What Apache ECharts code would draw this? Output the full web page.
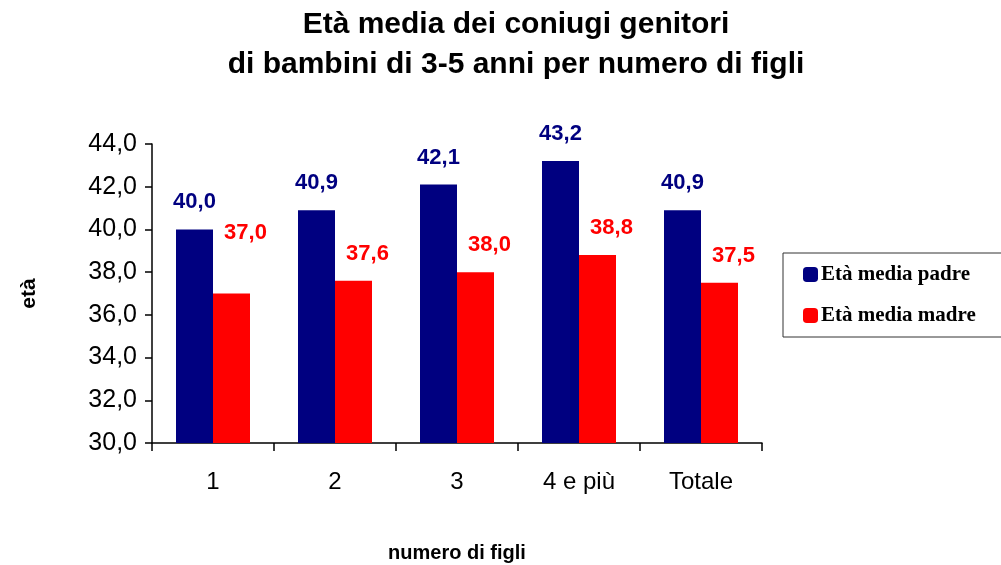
<!DOCTYPE html>
<html>
<head>
<meta charset="utf-8">
<title>Età media dei coniugi genitori</title>
<script src="https://cdn.jsdelivr.net/npm/echarts@6/dist/echarts.min.js"></script>
<style>
  html, body { margin: 0; padding: 0; background: #fff; }
  #chart { width: 1001px; height: 565px; }
</style>
</head>
<body>
<div id="chart"></div>
<script>
var categories = ['1', '2', '3', '4 e più', 'Totale'];
var padre = [40.0, 40.9, 42.1, 43.2, 40.9];
var madre = [37.0, 37.6, 38.0, 38.8, 37.5];

function virgola(v) {
    return v.toFixed(1).replace('.', ',');
}

var myChart = echarts.init(document.getElementById('chart'));

// l'etichetta della prima barra rossa è spostata più in alto nell'originale
var madreData = madre.map(function (v, i) {
    if (i === 0) {
        return { value: v, label: { offset: [14, -34] } };
    }
    return v;
});

var option = {
    animation: false,
    textStyle: { fontFamily: 'Liberation Sans, Arial, sans-serif' },
    title: {
        text: 'Età media dei coniugi genitori\ndi bambini di 3-5 anni per numero di figli',
        left: 511,
        top: 0,
        textAlign: 'center',
        textStyle: {
            fontSize: 30,
            fontWeight: 'bold',
            color: '#000',
            lineHeight: 40
        }
    },
    legend: {
        orient: 'vertical',
        left: 783,
        top: 253,
        padding: [11, 40, 11, 20],
        itemGap: 20,
        itemWidth: 15,
        itemHeight: 15,
        borderColor: '#333',
        borderWidth: 1,
        borderRadius: 0,
        icon: 'roundRect',
        textStyle: {
            fontFamily: 'Liberation Serif, Times New Roman, serif',
            fontWeight: 'bold',
            fontSize: 21,
            color: '#000',
            padding: [0, 0, 0, -2]
        },
        data: ['Età media padre', 'Età media madre']
    },
    grid: {
        left: 152,
        top: 144,
        width: 610,
        height: 299,
        containLabel: false,
        outerBoundsMode: 'none'
    },
    xAxis: {
        type: 'category',
        data: categories,
        name: 'numero di figli',
        nameLocation: 'middle',
        nameGap: 100,
        nameTextStyle: { fontSize: 20, fontWeight: 'bold', color: '#000' },
        axisLine: { lineStyle: { color: '#000', width: 1.5 } },
        axisTick: { show: true, length: 8, inside: false, lineStyle: { color: '#000', width: 1.5 } },
        axisLabel: { color: '#000', fontSize: 24, margin: 27 }
    },
    yAxis: {
        type: 'value',
        min: 30,
        max: 44,
        interval: 2,
        name: 'età',
        nameLocation: 'middle',
        nameGap: 112,
        nameRotate: 90,
        nameTextStyle: { fontSize: 21, fontWeight: 'bold', color: '#000' },
        splitLine: { show: false },
        axisLine: { show: true, lineStyle: { color: '#000', width: 1.5 } },
        axisTick: { show: true, length: 7, lineStyle: { color: '#000', width: 1.5 } },
        axisLabel: {
            color: '#000',
            fontSize: 25,
            margin: 15,
            formatter: function (v) { return virgola(v); }
        }
    },
    series: [
        {
            name: 'Età media padre',
            type: 'bar',
            data: padre,
            barWidth: 37,
            barGap: '0%',
            itemStyle: { color: '#000080' },
            label: {
                show: true,
                position: 'top',
                distance: 16,
                color: '#000080',
                fontSize: 22,
                fontWeight: 'bold',
                formatter: function (p) { return virgola(p.value); }
            }
        },
        {
            name: 'Età media madre',
            type: 'bar',
            data: madreData,
            barWidth: 37,
            barGap: '0%',
            itemStyle: { color: '#ff0000' },
            label: {
                show: true,
                position: 'top',
                distance: 16,
                offset: [14, 0],
                color: '#ff0000',
                fontSize: 22,
                fontWeight: 'bold',
                formatter: function (p) { return virgola(p.value); }
            }
        }
    ]
};
myChart.setOption(option);
</script>
</body>
</html>
